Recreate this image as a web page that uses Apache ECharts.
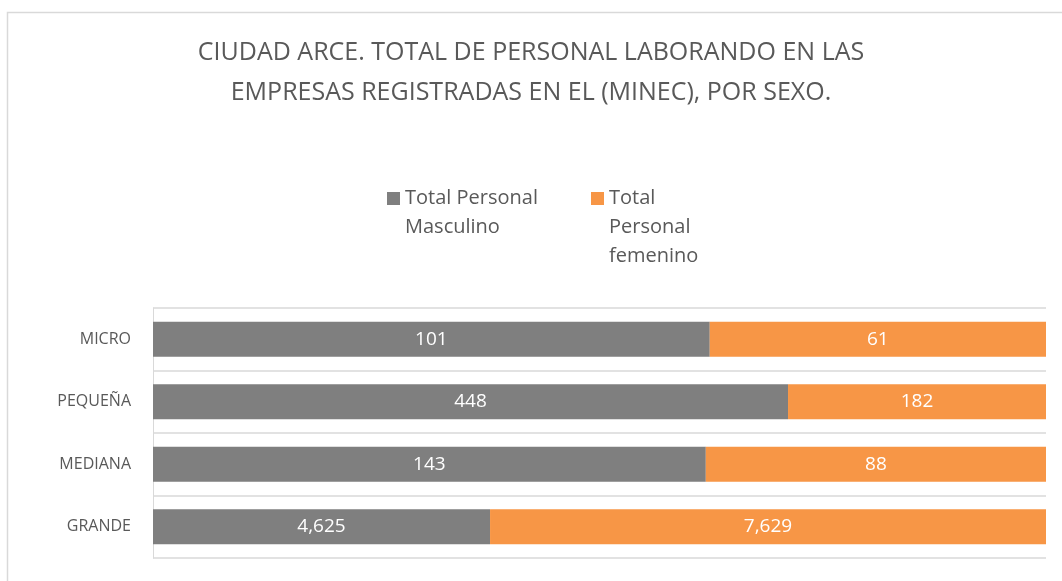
<!DOCTYPE html>
<html>
<head>
<meta charset="utf-8">
<script src="https://cdn.jsdelivr.net/npm/echarts@6/dist/echarts.min.js"></script>
<style>
  html, body { margin: 0; padding: 0; background: #fff; }
  #chart { width: 1062px; height: 581px; }
</style>
</head>
<body>
<div id="chart"></div>
<script>
// datos por tamaño de empresa
const categorias = ['MICRO', 'PEQUEÑA', 'MEDIANA', 'GRANDE'];
const masculino = [101, 448, 143, 4625];
const femenino = [61, 182, 88, 7629];
const nombres = ['Total Personal Masculino', 'Total Personal femenino'];

// 100% apilado: proporción de cada serie
const totales = masculino.map((m, i) => m + femenino[i]);
const pctMasc = masculino.map((m, i) => m / totales[i]);
const pctFem = femenino.map((f, i) => f / totales[i]);

const chart = echarts.init(document.getElementById('chart'));
const fmt = v => v.toLocaleString('en-US');

// leyenda con texto partido en líneas; el cuadrito va a la altura de la primera línea
const lh = 29;
const legendTop = 184;
function leyenda(nombre, texto, x) {
  const h = lh * texto.split('\n').length;
  const y0 = lh / 2 - 6.5;
  return {
    data: [nombre],
    left: x,
    top: legendTop,
    padding: 0,
    itemWidth: 13,
    itemHeight: h,
    // cuadrado arriba; el moveTo final solo estira la caja del icono
    icon: 'path://M0,' + y0 + 'h13v13h-13z M0,0 M13,' + h,
    formatter: () => texto,
    textStyle: {
      fontFamily: 'Open Sans',
      fontSize: 20,
      lineHeight: lh,
      color: '#595959'
    }
  };
}

const option = {
  backgroundColor: '#fff',
  animation: false,
  title: {
    text: 'CIUDAD ARCE. TOTAL DE PERSONAL LABORANDO EN LAS\nEMPRESAS REGISTRADAS EN EL (MINEC), POR SEXO.',
    left: 'center',
    top: 28,
    textStyle: {
      fontFamily: 'Open Sans',
      fontWeight: 'normal',
      fontSize: 25,
      lineHeight: 40,
      color: '#595959'
    }
  },
  legend: [
    leyenda(nombres[0], 'Total Personal\nMasculino', 387),
    leyenda(nombres[1], 'Total\nPersonal\nfemenino', 591)
  ],
  grid: { left: 153, right: 16, top: 308, bottom: 23 },
  xAxis: {
    type: 'value',
    min: 0,
    max: 1,
    show: false
  },
  yAxis: {
    type: 'category',
    data: categorias,
    inverse: true,
    axisTick: { show: false },
    axisLine: { show: true, lineStyle: { color: '#d9d9d9' } },
    splitLine: { show: true, lineStyle: { color: '#d9d9d9', width: 1.5 } },
    axisLabel: {
      margin: 22,
      fontFamily: 'Open Sans',
      fontSize: 16,
      color: '#595959'
    }
  },
  series: [
    {
      name: nombres[0],
      type: 'bar',
      stack: 'total',
      barCategoryGap: '44%',
      itemStyle: { color: '#7f7f7f' },
      label: {
        show: true,
        position: 'inside',
        color: '#fff',
        fontFamily: 'Open Sans',
        fontSize: 19,
        formatter: p => fmt(masculino[p.dataIndex])
      },
      data: pctMasc
    },
    {
      name: nombres[1],
      type: 'bar',
      stack: 'total',
      itemStyle: { color: '#f79646' },
      label: {
        show: true,
        position: 'inside',
        color: '#fff',
        fontFamily: 'Open Sans',
        fontSize: 19,
        formatter: p => fmt(femenino[p.dataIndex])
      },
      data: pctFem
    }
  ],
  graphic: [
    {
      type: 'rect',
      silent: true,
      shape: { x: 7.5, y: 12.5, width: 1100, height: 600 },
      style: { fill: 'none', stroke: '#d9d9d9', lineWidth: 1.5 }
    }
  ]
};

chart.setOption(option);
window.onresize = function () {
  chart.resize();
};
</script>
</body>
</html>
